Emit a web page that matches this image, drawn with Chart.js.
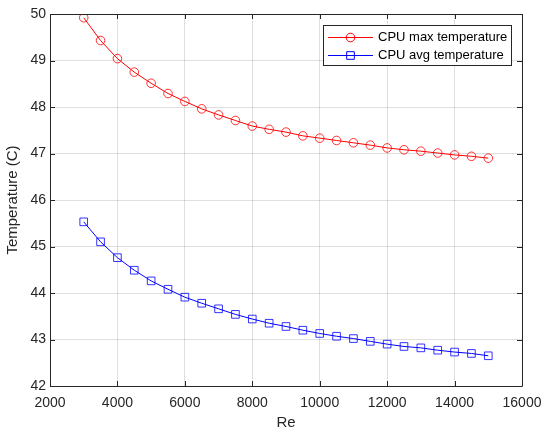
<!DOCTYPE html>
<html>
<head>
<meta charset="utf-8">
<script src="https://cdn.jsdelivr.net/npm/chart.js@4"></script>
<style>
  html, body { margin: 0; padding: 0; background: #fff; }
  #wrap { width: 547px; height: 432px; }
</style>
</head>
<body>
<div id="wrap"><canvas id="myChart"></canvas></div>
<script>
// Reynolds number sweep
const reValues = [3000, 3500, 4000, 4500, 5000, 5500, 6000, 6500, 7000, 7500, 8000, 8500, 9000,
  9500, 10000, 10500, 11000, 11500, 12000, 12500, 13000, 13500, 14000, 14500, 15000];
const cpuMax = [49.92, 49.43, 49.04, 48.75, 48.51, 48.29, 48.12, 47.96, 47.83, 47.71, 47.59, 47.52, 47.46,
  47.38, 47.33, 47.28, 47.23, 47.18, 47.12, 47.08, 47.05, 47.01, 46.97, 46.94, 46.90];
const cpuAvg = [45.53, 45.10, 44.76, 44.49, 44.26, 44.08, 43.91, 43.78, 43.66, 43.54, 43.44, 43.35, 43.28,
  43.20, 43.13, 43.07, 43.02, 42.96, 42.90, 42.85, 42.82, 42.77, 42.73, 42.70, 42.65];
const seriesNames = ['CPU max temperature', 'CPU avg temperature'];
const xTicks = [2000, 4000, 6000, 8000, 10000, 12000, 14000, 16000];
const yTicks = [42, 43, 44, 45, 46, 47, 48, 49, 50];

const axisColor = '#262626';
const fontFam = '"Liberation Sans", Arial, Helvetica, sans-serif';

const toXY = (ys) => reValues.map((x, i) => ({ x: x, y: ys[i] }));

// box around the axes with inward ticks, plus the boxed legend
const matlabAxes = {
  id: 'matlabAxes',
  afterDraw(chart) {
    const { ctx, chartArea: a, scales } = chart;
    ctx.save();
    ctx.strokeStyle = axisColor;
    ctx.lineWidth = 1;
    ctx.beginPath();
    ctx.rect(Math.round(a.left) + 0.5, Math.round(a.top) + 0.5,
      Math.round(a.right - a.left), Math.round(a.bottom - a.top));
    ctx.stroke();
    const tl = 5;
    ctx.beginPath();
    xTicks.forEach(v => {
      const px = Math.round(scales.x.getPixelForValue(v)) + 0.5;
      ctx.moveTo(px, a.bottom); ctx.lineTo(px, a.bottom - tl);
      ctx.moveTo(px, a.top); ctx.lineTo(px, a.top + tl);
    });
    yTicks.forEach(v => {
      const py = Math.round(scales.y.getPixelForValue(v)) + 0.5;
      ctx.moveTo(a.left, py); ctx.lineTo(a.left + tl, py);
      ctx.moveTo(a.right, py); ctx.lineTo(a.right - tl, py);
    });
    ctx.stroke();

    // legend
    const lx = 323.5, ly = 25.5, lw = 188, lh = 40;
    ctx.fillStyle = '#fff';
    ctx.fillRect(lx, ly, lw, lh);
    ctx.strokeRect(lx, ly, lw, lh);
    ctx.font = '13px ' + fontFam;
    ctx.textBaseline = 'middle';
    chart.data.datasets.forEach((ds, i) => {
      const cy = Math.round(ly + 11 + i * 18) + 0.5;
      ctx.strokeStyle = ds.borderColor;
      ctx.lineWidth = 1;
      ctx.beginPath();
      ctx.moveTo(328, cy); ctx.lineTo(373, cy);
      ctx.stroke();
      ctx.beginPath();
      if (ds.pointStyle === 'circle') {
        ctx.arc(350.5, cy, ds.pointRadius, 0, Math.PI * 2);
      } else {
        const s = ds.pointRadius * Math.SQRT1_2;
        ctx.rect(350.5 - s, cy - s, 2 * s, 2 * s);
      }
      ctx.stroke();
      ctx.fillStyle = '#000';
      ctx.fillText(ds.label, 378, cy);
    });
    ctx.restore();
  }
};

new Chart(document.getElementById('myChart'), {
  type: 'line',
  data: {
    datasets: [{
      label: seriesNames[0],
      data: toXY(cpuMax),
      borderColor: '#ff0000',
      borderWidth: 1,
      pointStyle: 'circle',
      pointRadius: 4.3,
      pointBorderWidth: 1,
      pointBackgroundColor: 'rgba(0,0,0,0)',
      pointBorderColor: 'rgba(255,0,0,0.8)',
      tension: 0
    }, {
      label: seriesNames[1],
      data: toXY(cpuAvg),
      borderColor: '#0000ff',
      borderWidth: 1,
      pointStyle: 'rect',
      pointRadius: 5.4,
      pointBorderWidth: 1,
      pointBackgroundColor: 'rgba(0,0,0,0)',
      pointBorderColor: 'rgba(0,0,255,0.8)',
      tension: 0
    }]
  },
  options: {
    responsive: true,
    maintainAspectRatio: false,
    animation: false,
    layout: { padding: { left: 0, top: 14, right: 25, bottom: 0 } },
    plugins: { legend: { display: false }, tooltip: { enabled: false } },
    scales: {
      x: {
        type: 'linear',
        min: 2000, max: 16000,
        afterBuildTicks: (s) => { s.ticks = xTicks.map(v => ({ value: v })); },
        afterFit: (s) => { s.height = 46; s.paddingLeft = 0; s.paddingRight = 0; },
        grid: { color: 'rgba(38,38,38,0.15)', drawTicks: false },
        border: { display: false },
        ticks: {
          color: axisColor, font: { family: fontFam, size: 14 }, padding: 9, maxRotation: 0,
          callback: (v) => String(v)
        },
        title: { display: true, text: 'Re', color: axisColor, font: { family: fontFam, size: 15 }, padding: { top: 0, bottom: 0 } }
      },
      y: {
        min: 42, max: 50,
        afterBuildTicks: (s) => { s.ticks = yTicks.map(v => ({ value: v })); },
        afterFit: (s) => { s.width = 50; s.paddingTop = 0; s.paddingBottom = 0; },
        grid: { color: 'rgba(38,38,38,0.15)', drawTicks: false },
        border: { display: false },
        ticks: { color: axisColor, font: { family: fontFam, size: 14 }, padding: 4 },
        title: { display: true, text: 'Temperature (C)', color: axisColor, font: { family: fontFam, size: 15 }, padding: { top: 4, bottom: 0 } }
      }
    }
  },
  plugins: [matlabAxes]
});
</script>
</body>
</html>
